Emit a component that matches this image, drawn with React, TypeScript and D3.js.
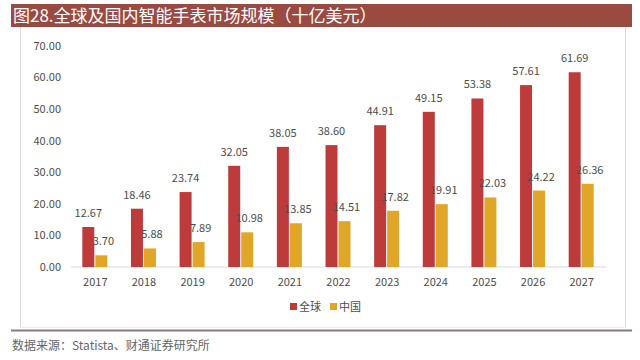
import * as d3 from 'd3'

const YEARS = ['2017', '2018', '2019', '2020', '2021', '2022', '2023', '2024', '2025', '2026', '2027']
const GLOBAL = [12.67, 18.46, 23.74, 32.05, 38.05, 38.6, 44.91, 49.15, 53.38, 57.61, 61.69]
const CHINA = [3.7, 5.88, 7.89, 10.98, 13.85, 14.51, 17.82, 19.91, 22.03, 24.22, 26.36]
const Y_TICKS = [0, 10, 20, 30, 40, 50, 60, 70]
const SERIES = ['全球', '中国']

const W = 640
const H = 360
const RED = '#bd3b3b'
const GOLD = '#e0a628'
const TITLE_BG = '#9b4a42'
const TEXT = '#4d4d4d'
const FONT = "'Noto Sans CJK SC', 'Noto Sans', sans-serif"
const BAR_W = 12

export default function App() {
  const x = d3.scaleBand<string>().domain(YEARS).range([71, 606])
  const y = d3.scaleLinear().domain([0, 70]).range([267, 46])
  const fmt = d3.format('.2f')
  const cx = (yr: string) => (x(yr) ?? 0) + x.bandwidth() / 2

  return (
    <svg width={W} height={H} style={{ position: 'absolute', left: 0, top: 0, background: '#fff' }}>
      {/* title bar */}
      <rect x={11} y={4} width={621} height={23} fill={TITLE_BG} />
      <text x={13} y={22} fill="#fff" fontSize={17} fontFamily={FONT}>
        图28.全球及国内智能手表市场规模（十亿美元）
      </text>

      {/* frame */}
      <line x1={20.5} x2={20.5} y1={27} y2={328} stroke="#dcdcdc" />
      <line x1={625.5} x2={625.5} y1={27} y2={328} stroke="#dcdcdc" />
      <line x1={20} x2={626} y1={327.5} y2={327.5} stroke="#eeeeee" />
      <line x1={11} x2={632} y1={330.5} y2={330.5} stroke="#8a7a78" strokeWidth={2} />

      {/* y ticks */}
      {Y_TICKS.map((t) => (
        <text key={t} x={61} y={y(t)} dy="0.35em" textAnchor="end" fill={TEXT} fontSize={11} fontFamily={FONT}>
          {fmt(t)}
        </text>
      ))}

      {/* baseline */}
      <line x1={71} x2={606} y1={y(0)} y2={y(0)} stroke="#d9d9d9" />

      {YEARS.map((yr, i) => {
        const c = cx(yr)
        return (
          <g key={yr}>
            <rect x={c - BAR_W - 1} y={y(GLOBAL[i])} width={BAR_W} height={y(0) - y(GLOBAL[i])} fill={RED} />
            <rect x={c} y={y(CHINA[i])} width={BAR_W} height={y(0) - y(CHINA[i])} fill={GOLD} />
            <text x={c - BAR_W / 2 - 1} y={y(GLOBAL[i]) - 10} textAnchor="middle" fill={TEXT} fontSize={11} fontFamily={FONT}>
              {fmt(GLOBAL[i])}
            </text>
            <text x={c + BAR_W / 2 + 2} y={y(CHINA[i]) - 10} textAnchor="middle" fill={TEXT} fontSize={11} fontFamily={FONT}>
              {fmt(CHINA[i])}
            </text>
            <text x={c} y={286} textAnchor="middle" fill={TEXT} fontSize={11} fontFamily={FONT}>
              {yr}
            </text>
          </g>
        )
      })}

      {/* legend */}
      {SERIES.map((s, i) => (
        <g key={s} transform={`translate(${290 + i * 40},307)`}>
          <rect x={0} y={-4} width={7} height={7} fill={i === 0 ? RED : GOLD} />
          <text x={9} y={0} dy="0.35em" fill={TEXT} fontSize={11} fontFamily={FONT}>
            {s}
          </text>
        </g>
      ))}

      {/* source */}
      <text x={12} y={350} fill="#666" fontSize={12} fontFamily={FONT}>
        数据来源：Statista、财通证券研究所
      </text>
    </svg>
  )
}
